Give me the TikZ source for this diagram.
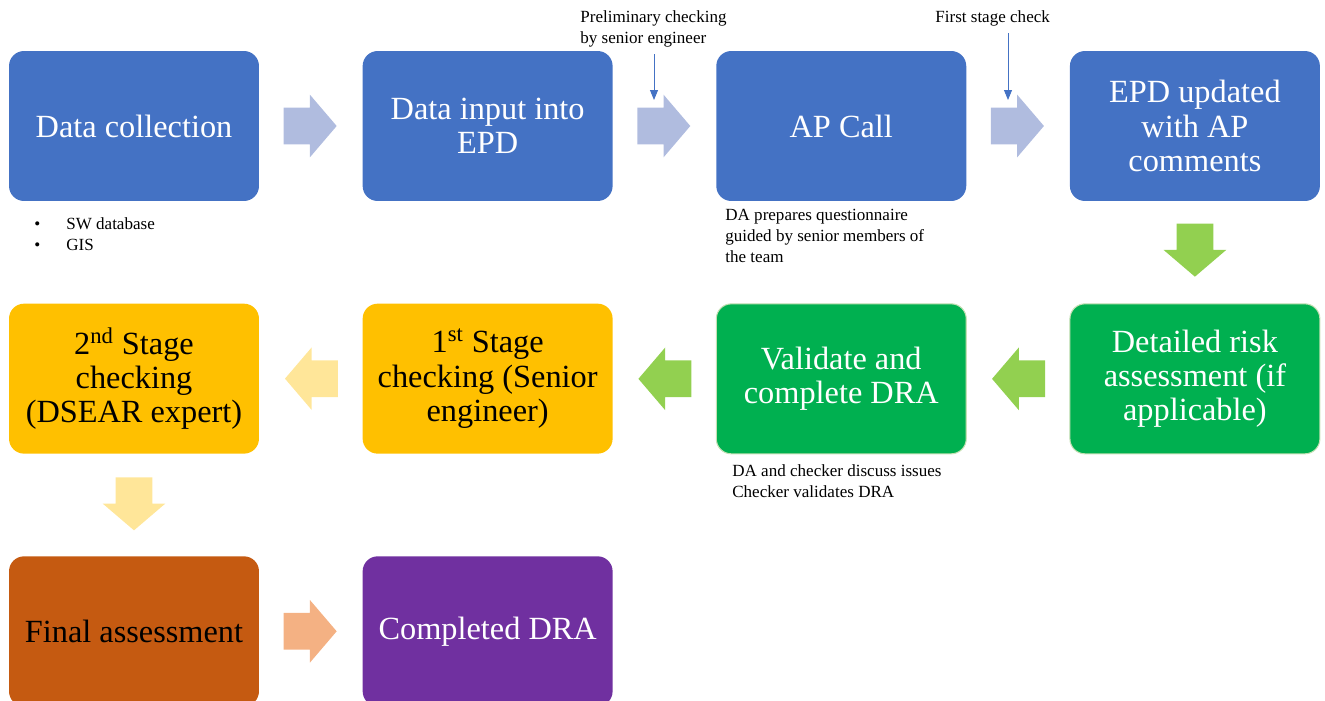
\documentclass[tikz,border=0pt]{standalone}
\usepackage{fontspec}
\setmainfont{Liberation Serif}
\usepackage{tikz}
\usetikzlibrary{positioning, calc, shapes.arrows, arrows.meta}

\definecolor{boxblue}{HTML}{4472C4}
\definecolor{boxgreen}{HTML}{00B050}
\definecolor{edgegreen}{HTML}{C5E0B4}
\definecolor{boxyellow}{HTML}{FFC000}
\definecolor{boxorange}{HTML}{C55A11}
\definecolor{boxpurple}{HTML}{7030A0}
\definecolor{arrblue}{HTML}{B0BCDF}
\definecolor{arrgreen}{HTML}{92D050}
\definecolor{arryellow}{HTML}{FFE699}
\definecolor{arrorange}{HTML}{F4B183}

\begin{document}
\begin{tikzpicture}[x=0.02cm, y=-0.02cm, node distance={2.04cm and 2.06cm}]
  \tikzset{
    stage/.style={rounded corners=0.3cm, minimum width=5cm, minimum height=3cm,
      inner sep=0, align=center, font=\fontsize{18.4}{19.4}\selectfont},
    bluebox/.style={stage, fill=boxblue, text=white},
    greenbox/.style={stage, fill=boxgreen, draw=edgegreen, line width=0.6pt, text=white},
    yellowbox/.style={stage, fill=boxyellow, text=black},
    orangebox/.style={stage, fill=boxorange, text=black},
    purplebox/.style={stage, fill=boxpurple, text=white},
    flow/.style={single arrow, anchor=tail, inner xsep=0, inner ysep=0.36cm, minimum height=1.06cm,
      single arrow head extend=0.26cm, single arrow tip angle=99},
    note/.style={inner sep=0, align=left, font=\fontsize{9.7}{11.9}\selectfont},
    pointer/.style={draw=boxblue, line width=0.5pt, -{Triangle[length=2mm, width=1.6mm]}}
  }
  \useasboundingbox (0,0) rectangle (1325,700);

  % top row
  \node[bluebox] (collect) at (134,126) {Data collection};
  \node[bluebox] (input) [right=of collect] {Data input into\\EPD};
  \node[bluebox] (apcall) [right=of input] {AP Call};
  \node[bluebox] (updated) [right=of apcall] {EPD updated\\with AP\\comments};

  % middle row
  \node[greenbox] (detailed) [below=of updated] {Detailed risk\\assessment (if\\applicable)};
  \node[greenbox] (validate) [below=of apcall] {Validate and\\complete DRA};
  \node[yellowbox] (first) [below=of input] {1\textsuperscript{st} Stage\\checking (Senior\\engineer)};
  \node[yellowbox] (second) [below=of collect] {2\textsuperscript{nd} Stage\\checking\\(DSEAR expert)};

  % bottom row
  \node[orangebox] (final) [below=of second] {Final assessment};
  \node[purplebox] (completed) [right=of final] {Completed DRA};

  % block arrows
  \node[flow, fill=arrblue] (a1) at ($(collect.east)+(24,0)$) {};
  \node[flow, fill=arrblue] (a2) at ($(input.east)+(24,0)$) {};
  \node[flow, fill=arrblue] (a3) at ($(apcall.east)+(24,0)$) {};
  \node[flow, fill=arrgreen, rotate=-90] (a4) at ($(updated.south)+(0,22)$) {};
  \node[flow, fill=arrgreen, rotate=180] (a5) at ($(detailed.west)+(-24,0)$) {};
  \node[flow, fill=arrgreen, rotate=180] (a6) at ($(validate.west)+(-24,0)$) {};
  \node[flow, fill=arryellow, rotate=180] (a7) at ($(first.west)+(-24,0)$) {};
  \node[flow, fill=arryellow, rotate=-90] (a8) at ($(second.south)+(0,23)$) {};
  \node[flow, fill=arrorange] (a9) at ($(final.east)+(24,0)$) {};

  % notes
  \node[note, anchor=north west] (prelim) at (580,10) {Preliminary checking\\by senior engineer};
  \node[note, anchor=north west] (firstchk) at (935,10) {First stage check};
  \node[note, anchor=north west] (sources) at (34,217)
    {\makebox[6.4mm][l]{\textbullet}SW database\\\makebox[6.4mm][l]{\textbullet}GIS};
  \node[note, anchor=north west] (quest) at (725,209) {DA prepares questionnaire\\guided by senior members of\\the team};
  \node[note, anchor=north west] (discuss) at (732,464) {DA and checker discuss issues\\Checker validates DRA};

  % pointers
  \coordinate (p1) at (654,54);
  \coordinate (p1e) at (654,100);
  \coordinate (p2) at (1008,33);
  \coordinate (p2e) at (1008,100);
  \draw[pointer] (p1) -- (p1e);
  \draw[pointer] (p2) -- (p2e);
\end{tikzpicture}
\end{document}
